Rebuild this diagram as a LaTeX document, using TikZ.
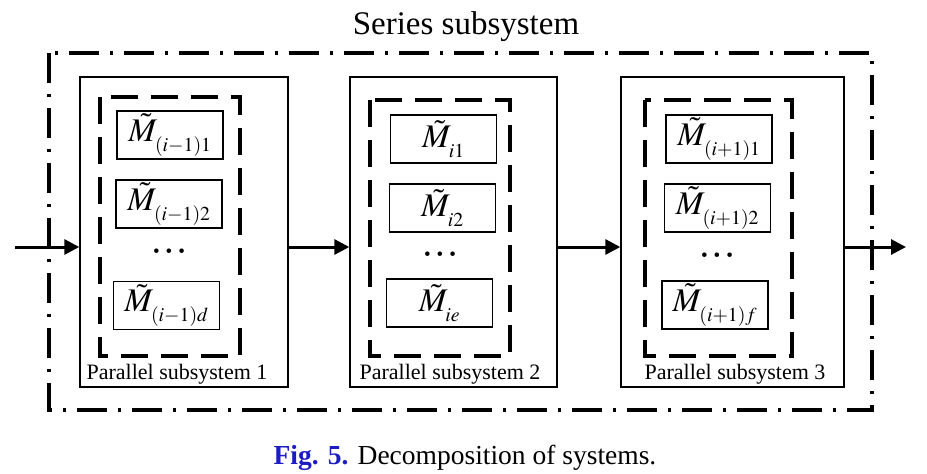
\documentclass[tikz,border=0pt]{standalone}
\usepackage{mathptmx}
\usepackage[no-math]{fontspec}
\setmainfont{Liberation Serif}
\usepackage{tikz}
\usetikzlibrary{arrows.meta, positioning}
\definecolor{FigInk}{HTML}{000000}
\definecolor{CapBlue}{HTML}{1C1CC4}
\newcommand{\mname}[1]{$\tilde{M}_{\raisebox{-5pt}{$\scriptscriptstyle #1$}}$}
\newcommand{\vdotsrow}{\textbullet\hspace{6pt}\textbullet\hspace{6pt}\textbullet}

\begin{document}
\begin{tikzpicture}[x=1pt, y=-1pt,
  parbox/.style={draw=FigInk, line width=1.4pt, minimum height=310pt, inner sep=0pt},
  elem/.style={draw=FigInk, line width=1.4pt, minimum width=106pt, minimum height=48pt,
    inner sep=0pt, font=\fontsize{33}{35}\selectfont},
  parline/.style={draw=FigInk, line width=3.2pt, dash pattern=on 27pt off 13pt},
  serline/.style={draw=FigInk, line width=3.4pt, dash pattern=on 30pt off 11pt on 3pt off 11pt},
  flow/.style={draw=FigInk, line width=3pt, -{Triangle[length=15pt, width=15pt]}},
  plabel/.style={font=\rmfamily\fontsize{22}{24}\selectfont, inner sep=0pt},
  dotsl/.style={font=\fontsize{19}{21}\selectfont, inner sep=0pt}]
\useasboundingbox (0,0) rectangle (927,474);

\node[font=\fontsize{33}{36}\selectfont] (title) at (466,27) {Series subsystem};
\draw[serline] (49,53) rectangle (872,410);

\node[parbox, minimum width=208pt] (p1) at (184,232) {};
\node[parbox, minimum width=207pt] (p2) at (453.5,232) {};
\node[parbox, minimum width=223pt] (p3) at (732.5,232) {};

\draw[parline] (100,97) rectangle (240,356);
\draw[parline] (370,100) rectangle (510,356);
\draw[parline] (645,100) rectangle (792,356);

\node[elem] (m1a) at (170,135) {\mname{(i-1)1}};
\node[elem] (m1b) at (169,204) {\mname{(i-1)2}};
\node[dotsl] (d1) at (169,253) {\vdotsrow};
\node[elem] (m1c) at (166.5,305.5) {\mname{(i-1)d}};

\node[elem] (m2a) at (443.5,139) {\mname{i1}};
\node[elem] (m2b) at (442.5,208) {\mname{i2}};
\node[dotsl] (d2) at (440,256) {\vdotsrow};
\node[elem] (m2c) at (439.5,303) {\mname{ie}};

\node[elem] (m3a) at (719,139) {\mname{(i+1)1}};
\node[elem] (m3b) at (717.5,208) {\mname{(i+1)2}};
\node[dotsl] (d3) at (717,257) {\vdotsrow};
\node[elem] (m3c) at (715,305) {\mname{(i+1)f}};

\node[plabel] (l1) at (177,374) {Parallel subsystem 1};
\node[plabel] (l2) at (450,374) {Parallel subsystem 2};
\node[plabel] (l3) at (735,374) {Parallel subsystem 3};

\coordinate (in) at (15,247);
\coordinate (out) at (906,247);
\draw[flow] (in) -- (in -| p1.west);
\draw[flow] (in -| p1.east) -- (in -| p2.west);
\draw[flow] (in -| p2.east) -- (in -| p3.west);
\draw[flow] (in -| p3.east) -- (out);

\node[font=\fontsize{27.5}{30}\selectfont] (cap) at (465,458)
  {\textcolor{CapBlue}{\textbf{Fig. 5.}} Decomposition of systems.};
\end{tikzpicture}
\end{document}
